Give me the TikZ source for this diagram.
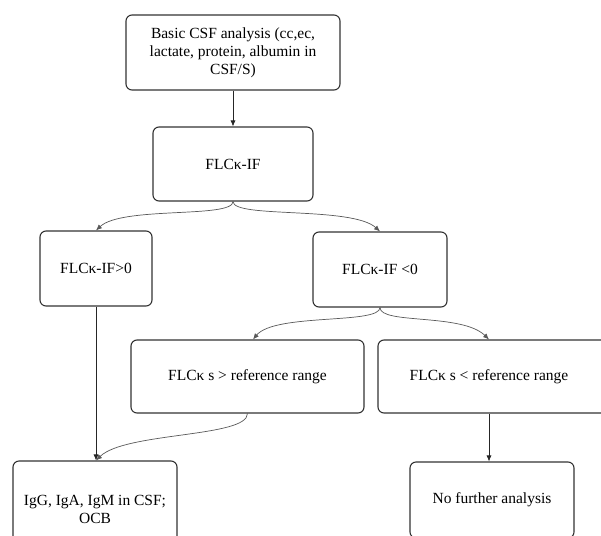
\documentclass[tikz,border=0pt]{standalone}
\usepackage{fontspec}
\setmainfont{Liberation Serif}
\usetikzlibrary{arrows.meta}
\tikzset{
  flowbox/.style={draw=black!80, line width=1.1pt, rounded corners=6pt, align=center,
    inner sep=0pt, font=\fontsize{15.5}{18}\selectfont},
  flowtext/.style={align=center, inner sep=0pt, font=\fontsize{15.5}{18}\selectfont},
  curvearrow/.style={draw=black!65, line width=0.7pt, -{Latex[length=6pt,width=5pt]}},
  straightarrow/.style={draw=black!85, line width=0.7pt, -{Latex[length=6pt,width=5pt]}}
}
\begin{document}
\begin{tikzpicture}[x=1pt,y=-1pt]
\useasboundingbox (0,0) rectangle (601,535);
\clip (0,0) rectangle (601,535);
\fill[white] (0,0) rectangle (601,535);
\node[flowbox, minimum width=214pt, minimum height=75pt] (b1) at (233,52.5)
  {Basic CSF analysis (cc,ec,\\lactate, protein, albumin in\\CSF/S)};
\node[flowbox, minimum width=160pt, minimum height=74pt] (b2) at (233,164) {FLCκ-IF};
\node[flowbox, minimum width=112pt, minimum height=75pt] (b3) at (96,268.5) {FLCκ-IF>0};
\node[flowbox, minimum width=134pt, minimum height=75pt] (b4) at (380,269.5) {FLCκ-IF <0};
\node[flowbox, minimum width=233pt, minimum height=73pt] (b5) at (247.5,376.5) {FLCκ s > reference range};
\node[flowbox, minimum width=240pt, minimum height=73pt] (b6) at (498,376.5) {};
\node[flowtext] (t6) at (489,376.5) {FLCκ s < reference range};
\node[flowbox, minimum width=164pt, minimum height=96pt] (b7) at (95,509) {IgG, IgA, IgM in CSF;\\OCB};
\node[flowbox, minimum width=164pt, minimum height=76pt] (b8) at (492,500) {No further analysis};

\draw[straightarrow] (b1.south) -- (b2.north);
\draw[curvearrow] (b2.south) .. controls ++(0,17) and (122,206) .. (b3.north);
\draw[curvearrow] (b2.south) .. controls ++(0,17) and (352,206) .. (b4.north);
\draw[straightarrow] (b3.south) -- (b3.south |- b7.north);
\draw[curvearrow] (b4.south) .. controls ++(0,17) and (275,313) .. ([xshift=5.5pt]b5.north);
\draw[curvearrow] (b4.south) .. controls ++(0,17) and (462,313) .. (t6.center |- b6.north);
\draw[curvearrow] (b5.south) .. controls ++(0,24) and (125,432) .. (b3.south |- b7.north);
\draw[straightarrow] (t6.center |- b6.south) -- (t6.center |- b8.north);
\end{tikzpicture}
\end{document}
